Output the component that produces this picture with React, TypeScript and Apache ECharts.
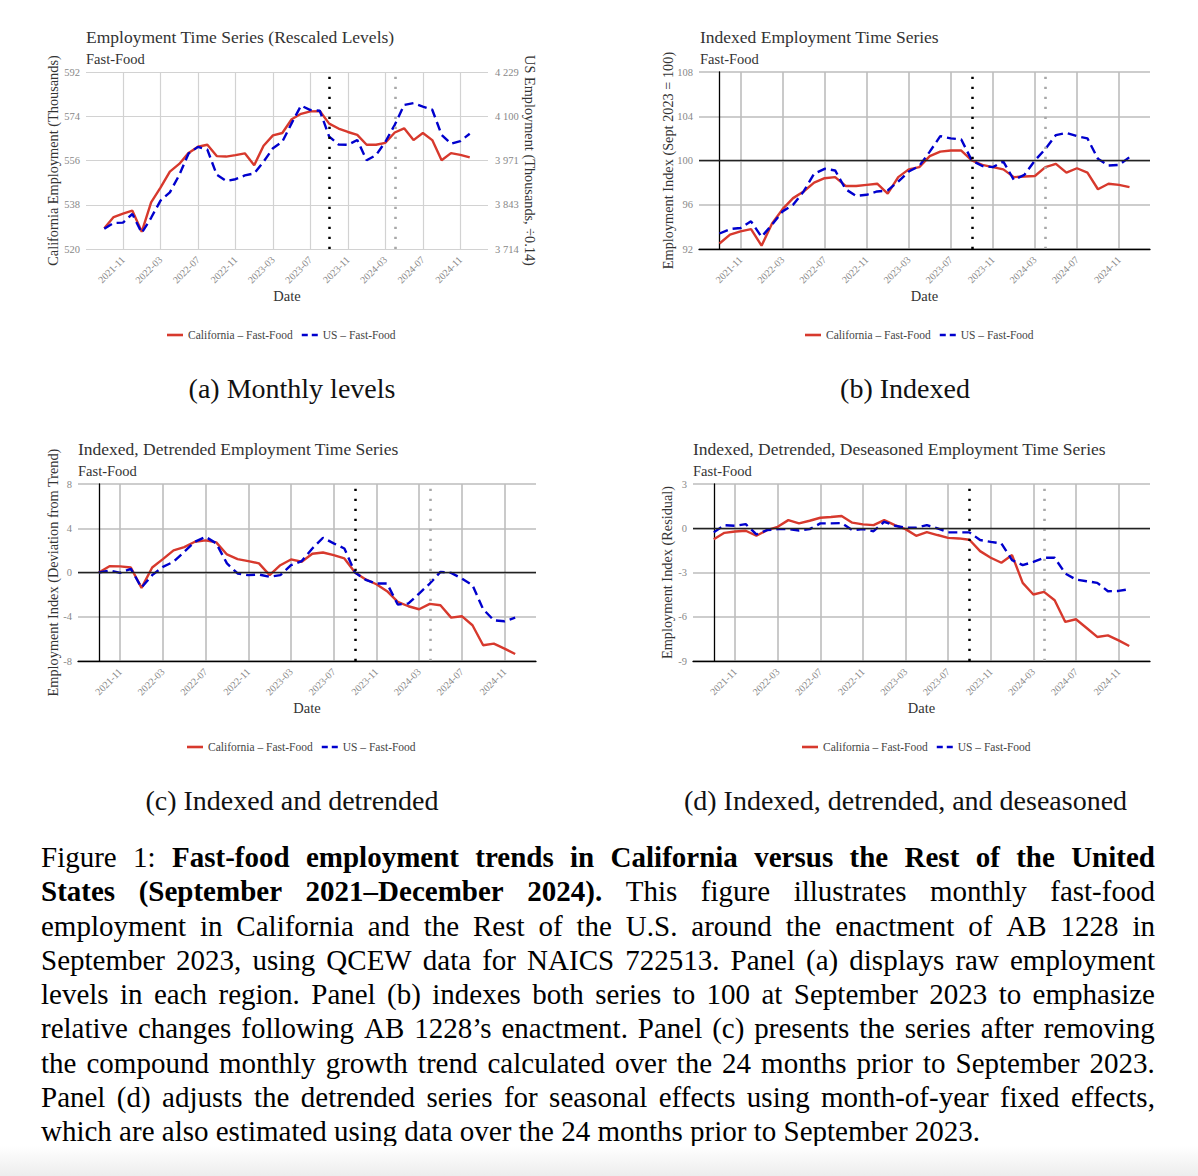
import React, { useEffect, useRef } from "react";
import * as echarts from "echarts";

// ---------- DATA ----------
const months = [
  "2021-09", "2021-10", "2021-11", "2021-12",
  "2022-01", "2022-02", "2022-03", "2022-04", "2022-05", "2022-06", "2022-07", "2022-08", "2022-09", "2022-10", "2022-11", "2022-12",
  "2023-01", "2023-02", "2023-03", "2023-04", "2023-05", "2023-06", "2023-07", "2023-08", "2023-09", "2023-10", "2023-11", "2023-12",
  "2024-01", "2024-02", "2024-03", "2024-04", "2024-05", "2024-06", "2024-07", "2024-08", "2024-09", "2024-10", "2024-11", "2024-12",
];
const tickLabels = ["2021-11", "2022-03", "2022-07", "2022-11", "2023-03", "2023-07", "2023-11", "2024-03", "2024-07", "2024-11"];
const policyMonth = "2023-09";
const effectiveMonth = "2024-04";

// (a) levels, thousands
const caLevels = [528.4, 533.0, 534.4, 535.6, 527.0, 539.0, 545.0, 551.5, 554.6, 559.1, 561.6, 562.4, 557.8, 557.6, 558.2, 558.9, 554.1, 562.0, 566.2, 567.2, 572.8, 575.0, 576.0, 576.1, 571.0, 569.0, 567.6, 566.4, 562.4, 562.4, 563.2, 567.4, 569.1, 564.3, 567.2, 564.3, 556.1, 559.0, 558.3, 557.3];
const usLevels = [3773, 3790, 3791, 3816, 3761, 3805, 3855, 3879, 3929, 3992, 4011, 4003, 3930, 3912, 3917, 3928, 3934, 3968, 4007, 4026, 4080, 4131, 4118, 4116, 4041, 4018, 4017, 4031, 3972, 3987, 4026, 4075, 4133, 4138, 4128, 4119, 4046, 4020, 4028, 4049];
const levelTicks = [520, 538, 556, 574, 592];
const usScale = 0.14;

// (b) indexed
const caIndexed = [92.5, 93.3, 93.6, 93.8, 92.3, 94.3, 95.6, 96.6, 97.2, 98.0, 98.4, 98.5, 97.7, 97.7, 97.8, 97.9, 97.0, 98.5, 99.2, 99.4, 100.4, 100.8, 100.9, 100.9, 100.0, 99.6, 99.4, 99.2, 98.5, 98.55, 98.6, 99.4, 99.7, 98.9, 99.3, 98.9, 97.4, 97.9, 97.8, 97.6];
const usIndexed = [93.4, 93.8, 93.9, 94.5, 93.1, 94.2, 95.4, 96.0, 97.2, 98.8, 99.25, 99.1, 97.4, 96.8, 96.9, 97.2, 97.3, 98.1, 99.0, 99.5, 100.8, 102.2, 102.0, 101.9, 100.0, 99.5, 99.4, 99.9, 98.25, 98.7, 100.0, 101.05, 102.3, 102.5, 102.2, 102.0, 100.15, 99.55, 99.6, 100.3];

// (c) indexed, detrended
const caDetrended = [0, 0.57, 0.55, 0.45, -1.39, 0.45, 1.21, 2.0, 2.3, 2.78, 2.9, 2.72, 1.63, 1.21, 1.03, 0.82, -0.24, 0.66, 1.18, 0.97, 1.69, 1.81, 1.57, 1.27, 0, -0.63, -1.06, -1.69, -2.66, -3.05, -3.32, -2.84, -2.96, -4.08, -3.95, -4.77, -6.58, -6.43, -6.88, -7.37];
const usDetrended = [0, 0.18, -0.03, 0.33, -1.36, -0.24, 0.51, 0.97, 1.87, 2.78, 3.23, 2.63, 0.82, -0.09, -0.24, -0.18, -0.39, -0.24, 0.66, 1.03, 2.17, 3.14, 2.63, 2.17, 0, -0.66, -1.0, -1.0, -2.9, -2.8, -1.9, -1.0, 0.06, -0.03, -0.54, -1.15, -3.32, -4.32, -4.41, -4.08];

// (d) indexed, detrended, deseasoned
const caDeseasoned = [-0.74, -0.31, -0.22, -0.17, -0.51, -0.13, 0.10, 0.55, 0.33, 0.51, 0.71, 0.76, 0.83, 0.38, 0.26, 0.21, 0.55, 0.21, -0.06, -0.51, -0.26, -0.46, -0.65, -0.69, -0.78, -1.55, -2.0, -2.34, -1.82, -3.70, -4.49, -4.31, -4.88, -6.35, -6.17, -6.76, -7.37, -7.26, -7.6, -7.98];
const usDeseasoned = [-0.28, 0.21, 0.17, 0.28, -0.42, -0.13, -0.06, -0.06, -0.15, -0.06, 0.33, 0.33, 0.35, -0.13, -0.06, -0.20, 0.44, 0.17, 0.03, 0.03, 0.21, -0.01, -0.28, -0.28, -0.28, -0.80, -0.92, -1.03, -2.16, -2.50, -2.28, -2.0, -2.0, -3.07, -3.48, -3.59, -3.70, -4.27, -4.25, -4.13];

const CA_NAME = "California \u2013 Fast-Food";
const US_NAME = "US \u2013 Fast-Food";

// ---------- STYLE ----------
const FONT = "'Liberation Serif', 'DejaVu Serif', serif";
const RED = "#d7392d";
const BLUE = "#0000cd";
const TICK_COLOR = "#888888";
const TEXT_COLOR = "#333333";

const captionLines: Array<Array<[string, boolean]>> = [
  [["Figure 1:", false], ["Fast-food employment trends in California versus the Rest of the United", true]],
  [["States (September 2021\u2013December 2024).", true], ["This figure illustrates monthly fast-food", false]],
  [["employment in California and the Rest of the U.S. around the enactment of AB 1228 in", false]],
  [["September 2023, using QCEW data for NAICS 722513. Panel (a) displays raw employment", false]],
  [["levels in each region. Panel (b) indexes both series to 100 at September 2023 to emphasize", false]],
  [["relative changes following AB 1228\u2019s enactment. Panel (c) presents the series after removing", false]],
  [["the compound monthly growth trend calculated over the 24 months prior to September 2023.", false]],
  [["Panel (d) adjusts the detrended series for seasonal effects using month-of-year fixed effects,", false]],
  [["which are also estimated using data over the 24 months prior to September 2023.", false]],
];

function fmtThousands(v: number) {
  const s = String(Math.round(v));
  return s.replace(/\B(?=(\d{3})+(?!\d))/g, " ");
}

function buildOption() {
  const xTickIdx = tickLabels.map((t) => months.indexOf(t));
  const policyIdx = months.indexOf(policyMonth);
  const effIdx = months.indexOf(effectiveMonth);
  const pairs = (vals: number[]) => months.map((_, i) => [i, vals[i]]);

  const panels = [
    { key: "a", left: 86, top: 72, width: 402, height: 177, axisLine: false, grid: "#d2d2d2", gw: 1.2,
      title: "Employment Time Series (Rescaled Levels)", titleLeft: 86, titleTop: 28,
      ca: caLevels, us: usLevels, ymin: 520, ymax: 592, interval: 18, ref: null as number | null,
      yTitle: "California Employment (Thousands)", yTitleX: 52.5, legendLeft: 167, legendTop: 329,
      sub: "(a) Monthly levels", subX: 292, subY: 388 },
    { key: "b", left: 699, top: 72, width: 451, height: 177, axisLine: true, grid: "#bdbdbd", gw: 1.6,
      title: "Indexed Employment Time Series", titleLeft: 700, titleTop: 28,
      ca: caIndexed, us: usIndexed, ymin: 92, ymax: 108, interval: 4, ref: 100,
      yTitle: "Employment Index (Sept 2023 = 100)", yTitleX: 667.5, legendLeft: 805, legendTop: 329,
      sub: "(b) Indexed", subX: 905, subY: 388 },
    { key: "c", left: 78, top: 484, width: 458, height: 177, axisLine: true, grid: "#bdbdbd", gw: 1.6,
      title: "Indexed, Detrended Employment Time Series", titleLeft: 78, titleTop: 440,
      ca: caDetrended, us: usDetrended, ymin: -8, ymax: 8, interval: 4, ref: 0,
      yTitle: "Employment Index (Deviation from Trend)", yTitleX: 52.5, legendLeft: 187, legendTop: 741,
      sub: "(c) Indexed and detrended", subX: 292, subY: 800 },
    { key: "d", left: 693, top: 484, width: 457, height: 177, axisLine: true, grid: "#bdbdbd", gw: 1.6,
      title: "Indexed, Detrended, Deseasoned Employment Time Series", titleLeft: 693, titleTop: 440,
      ca: caDeseasoned, us: usDeseasoned, ymin: -9, ymax: 3, interval: 3, ref: 0,
      yTitle: "Employment Index (Residual)", yTitleX: 667, legendLeft: 802, legendTop: 741,
      sub: "(d) Indexed, detrended, and deseasoned", subX: 905.5, subY: 800 },
  ];

  const grids: any[] = [];
  const xAxes: any[] = [];
  const yAxes: any[] = [];
  const series: any[] = [];
  const titles: any[] = [];
  const legends: any[] = [];
  const graphics: any[] = [];

  const axisLineStyle = { color: "#000", width: 1.3 };

  panels.forEach((p, gi) => {
    grids.push({ left: p.left, top: p.top, width: p.width, height: p.height, containLabel: false, outerBoundsMode: "none" });
    xAxes.push({
      type: "value", gridIndex: gi, min: -1.95, max: months.length - 1 + 1.95,
      axisLine: { show: p.axisLine, onZero: false, lineStyle: axisLineStyle },
      axisTick: { show: false, customValues: xTickIdx },
      axisLabel: {
        customValues: xTickIdx, rotate: 45, margin: 9, fontSize: 10, color: TICK_COLOR, fontFamily: FONT,
        formatter: (v: number) => months[Math.round(v)] || "",
      },
      splitLine: { show: true, lineStyle: { color: p.grid, width: p.gw } },
    });
    const yTicks = p.key === "a" ? levelTicks : null;
    const yAxisIndex = yAxes.length;
    yAxes.push({
      type: "value", gridIndex: gi, min: p.ymin, max: p.ymax,
      ...(yTicks ? {} : { interval: p.interval }),
      axisLine: { show: p.axisLine, lineStyle: axisLineStyle },
      axisTick: yTicks ? { show: false, customValues: yTicks } : { show: false },
      axisLabel: {
        ...(yTicks ? { customValues: yTicks } : {}),
        margin: 6, fontSize: 10.5, color: TICK_COLOR, fontFamily: FONT,
      },
      splitLine: { show: true, lineStyle: { color: p.grid, width: p.gw } },
    });
    let usAxisIndex = yAxisIndex;
    if (p.key === "a") {
      usAxisIndex = yAxes.length;
      const rt = levelTicks.map((v) => v / usScale);
      yAxes.push({
        type: "value", gridIndex: gi, position: "right",
        min: p.ymin / usScale, max: p.ymax / usScale,
        axisLine: { show: false }, axisTick: { show: false, customValues: rt },
        axisLabel: { customValues: rt, margin: 7, fontSize: 10.5, color: TICK_COLOR, fontFamily: FONT, formatter: (v: number) => fmtThousands(v) },
        splitLine: { show: false },
      });
    }

    const markData: any[] = [
      { xAxis: policyIdx, lineStyle: { color: "#000000", type: [2.3, 7.7], width: 2.5 } },
      { xAxis: effIdx, lineStyle: { color: "#a8a8a8", type: [2.3, 7.7], width: 2.6 } },
    ];
    if (p.ref !== null) {
      markData.push({ yAxis: p.ref, lineStyle: { color: "#222222", type: "solid", width: 1.3 } });
    }

    series.push({
      type: "line", name: CA_NAME, xAxisIndex: gi, yAxisIndex, data: pairs(p.ca),
      symbol: "none", showSymbol: false, z: 3,
      lineStyle: { color: RED, width: 2.4 }, itemStyle: { color: RED },
      markLine: { silent: true, symbol: ["none", "none"], label: { show: false }, emphasis: { disabled: true }, data: markData },
    });
    series.push({
      type: "line", name: US_NAME, xAxisIndex: gi, yAxisIndex: usAxisIndex, data: pairs(p.us),
      symbol: "none", showSymbol: false, z: 4,
      lineStyle: { color: BLUE, width: 2.4, type: [9, 5] }, itemStyle: { color: BLUE },
    });

    titles.push({
      text: p.title, subtext: "Fast-Food", left: p.titleLeft, top: p.titleTop, padding: 0, itemGap: 5,
      textStyle: { fontFamily: FONT, fontSize: 17.5, fontWeight: "normal", color: TEXT_COLOR },
      subtextStyle: { fontFamily: FONT, fontSize: 14.5, color: TEXT_COLOR },
    });

    legends.push({
      data: [
        { name: CA_NAME, icon: "rect" },
        { name: US_NAME, icon: "path://M0,0h6v1h-6z M10,0h6v1h-6z" },
      ],
      left: p.legendLeft, top: p.legendTop, padding: 0,
      itemWidth: 16, itemHeight: 2.6, itemGap: 9, orient: "horizontal",
      symbolKeepAspect: false,
      itemStyle: { borderWidth: 0 },
      textStyle: { fontFamily: FONT, fontSize: 11.5, color: "#444" },
      selectedMode: false,
    });

    const midY = p.top + p.height / 2;
    graphics.push({
      type: "text", x: p.yTitleX, y: midY, rotation: Math.PI / 2,
      style: { text: p.yTitle, fontFamily: FONT, fontSize: 14.3, fill: TEXT_COLOR, align: "center", verticalAlign: "middle" },
    });
    graphics.push({
      type: "text", x: p.left + p.width / 2, y: p.top + p.height + 47,
      style: { text: "Date", fontFamily: FONT, fontSize: 14.5, fill: TEXT_COLOR, align: "center", verticalAlign: "middle" },
    });
    if (p.key === "a") {
      graphics.push({
        type: "text", x: 529.5, y: midY, rotation: -Math.PI / 2,
        style: { text: "US Employment (Thousands, \u00f70.14)", fontFamily: FONT, fontSize: 14.3, fill: TEXT_COLOR, align: "center", verticalAlign: "middle" },
      });
    }
    graphics.push({
      type: "text", x: p.subX, y: p.subY,
      style: { text: p.sub, fontFamily: FONT, fontSize: 28, fill: "#111", align: "center", verticalAlign: "middle" },
    });
  });

  return {
    animation: false,
    backgroundColor: "#ffffff",
    textStyle: { fontFamily: FONT },
    title: titles,
    legend: legends,
    grid: grids,
    xAxis: xAxes,
    yAxis: yAxes,
    series,
    graphic: graphics,
  };
}

function Caption() {
  return (
    <div
      style={{
        position: "absolute", left: 41, top: 840, width: 1114,
        fontFamily: FONT, fontSize: 29, lineHeight: "34.3px", color: "#000",
      }}
    >
      {captionLines.map((segs, li) => {
        const words: Array<{ w: string; b: boolean }> = [];
        segs.forEach(([t, b]) => t.split(" ").forEach((w) => words.push({ w, b })));
        const last = li === captionLines.length - 1;
        if (last) {
          return (
            <div key={li} style={{ whiteSpace: "nowrap" }}>
              {words.map((x) => x.w).join(" ")}
            </div>
          );
        }
        return (
          <div key={li} style={{ display: "flex", justifyContent: "space-between", whiteSpace: "nowrap" }}>
            {words.map((x, wi) => (
              <span key={wi} style={{ fontWeight: x.b ? 700 : 400 }}>{x.w}</span>
            ))}
          </div>
        );
      })}
    </div>
  );
}

export default function App() {
  const ref = useRef<HTMLDivElement>(null);
  useEffect(() => {
    if (!ref.current) return;
    const chart = echarts.init(ref.current, null, { renderer: "svg" });
    chart.setOption(buildOption() as any);
    return () => chart.dispose();
  }, []);
  return (
    <div style={{ position: "absolute", left: 0, top: 0, width: 1198, height: 1176, background: "#fff", overflow: "hidden" }}>
      <div ref={ref} style={{ position: "absolute", left: 0, top: 0, width: 1198, height: 830 }} />
      <Caption />
      <div style={{ position: "absolute", left: 0, top: 1146, width: 1198, height: 30, background: "linear-gradient(#ffffff, #ededed)" }} />
    </div>
  );
}
